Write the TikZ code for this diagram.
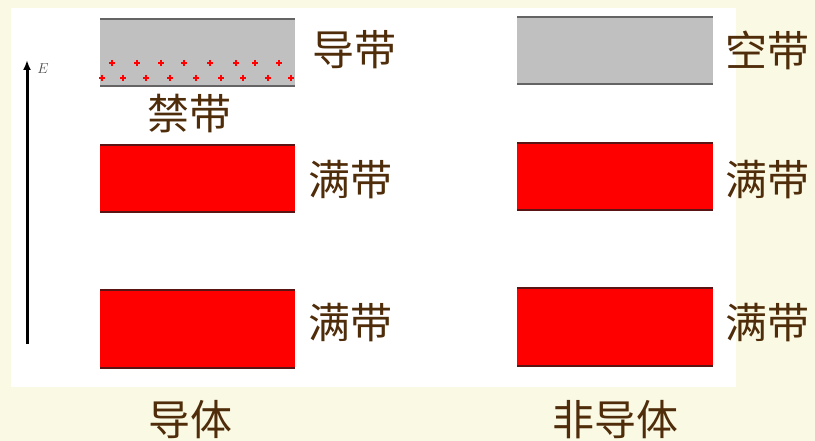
\documentclass[tikz,border=0pt]{standalone}
\usepackage{fontspec}
\usetikzlibrary{arrows.meta}
\newfontfamily\cjk{Noto Sans CJK SC}
\definecolor{bgcream}{RGB}{250,249,228}
\definecolor{txtbrown}{RGB}{80,45,10}
\definecolor{bandgray}{RGB}{192,192,192}
\definecolor{edgegray}{RGB}{100,100,100}
\definecolor{edgered}{RGB}{90,20,20}
\tikzset{
  lbl/.style={font=\cjk\fontsize{42}{42}\selectfont, text=txtbrown, inner sep=0pt},
  grayband/.style={fill=bandgray, draw=none},
  redband/.style={fill=red, draw=none},
  dotmark/.style={draw=red, line width=1.4pt},
}
\begin{document}
\begin{tikzpicture}[x=1pt,y=-1pt]
\useasboundingbox (0,0) rectangle (815,441);
\fill[bgcream] (0,0) rectangle (815,441);
\fill[white] (11,8) rectangle (736,387);
% conduction band (conductor)
\fill[grayband] (100,19) rectangle (295,86);
\draw[edgegray, line width=2.5pt] (100,19) -- (295,19);
\draw[edgegray, line width=2.5pt] (100,86) -- (295,86);
\foreach \x in {112,137,161,184,210,236,255,279}
  \draw[dotmark] (\x-3,63) -- (\x+3,63) (\x,60) -- (\x,66);
\foreach \x in {102,123,146,170,196,221,243,268,291}
  \draw[dotmark] (\x-3,78) -- (\x+3,78) (\x,75) -- (\x,81);
% empty band (nonconductor)
\fill[grayband] (517,17) rectangle (713,84);
\draw[edgegray, line width=2.5pt] (517,17) -- (713,17);
\draw[edgegray, line width=2.5pt] (517,84) -- (713,84);
% filled bands
\foreach \xa/\xb/\ya/\yb in {100/295/145/212, 100/295/290/368, 517/713/143/210, 517/713/288/366}{
  \fill[redband] (\xa,\ya) rectangle (\xb,\yb);
  \draw[edgered, line width=2pt] (\xa,\ya) -- (\xb,\ya);
  \draw[edgered, line width=2pt] (\xa,\yb) -- (\xb,\yb);
}
% energy axis
\coordinate (e0) at (27,344);
\coordinate (e1) at (27,60);
\draw[line width=3pt, -{Latex[length=10pt,width=8pt]}] (e0) -- (e1);
\node[font=\fontsize{14}{14}\selectfont, inner sep=0pt, text=black!70] (E) at (43,69) {$E$};
% labels
\node[lbl] (l1) at (354,50) {导带};
\node[lbl] (l2) at (767,50) {空带};
\node[lbl] (l3) at (189,114) {禁带};
\node[lbl] (l4) at (350,180) {满带};
\node[lbl] (l5) at (767,180) {满带};
\node[lbl] (l6) at (350,323) {满带};
\node[lbl] (l7) at (767,323) {满带};
\node[lbl] (l8) at (190,420) {导体};
\node[lbl] (l9) at (615,420) {非导体};
\end{tikzpicture}
\end{document}
